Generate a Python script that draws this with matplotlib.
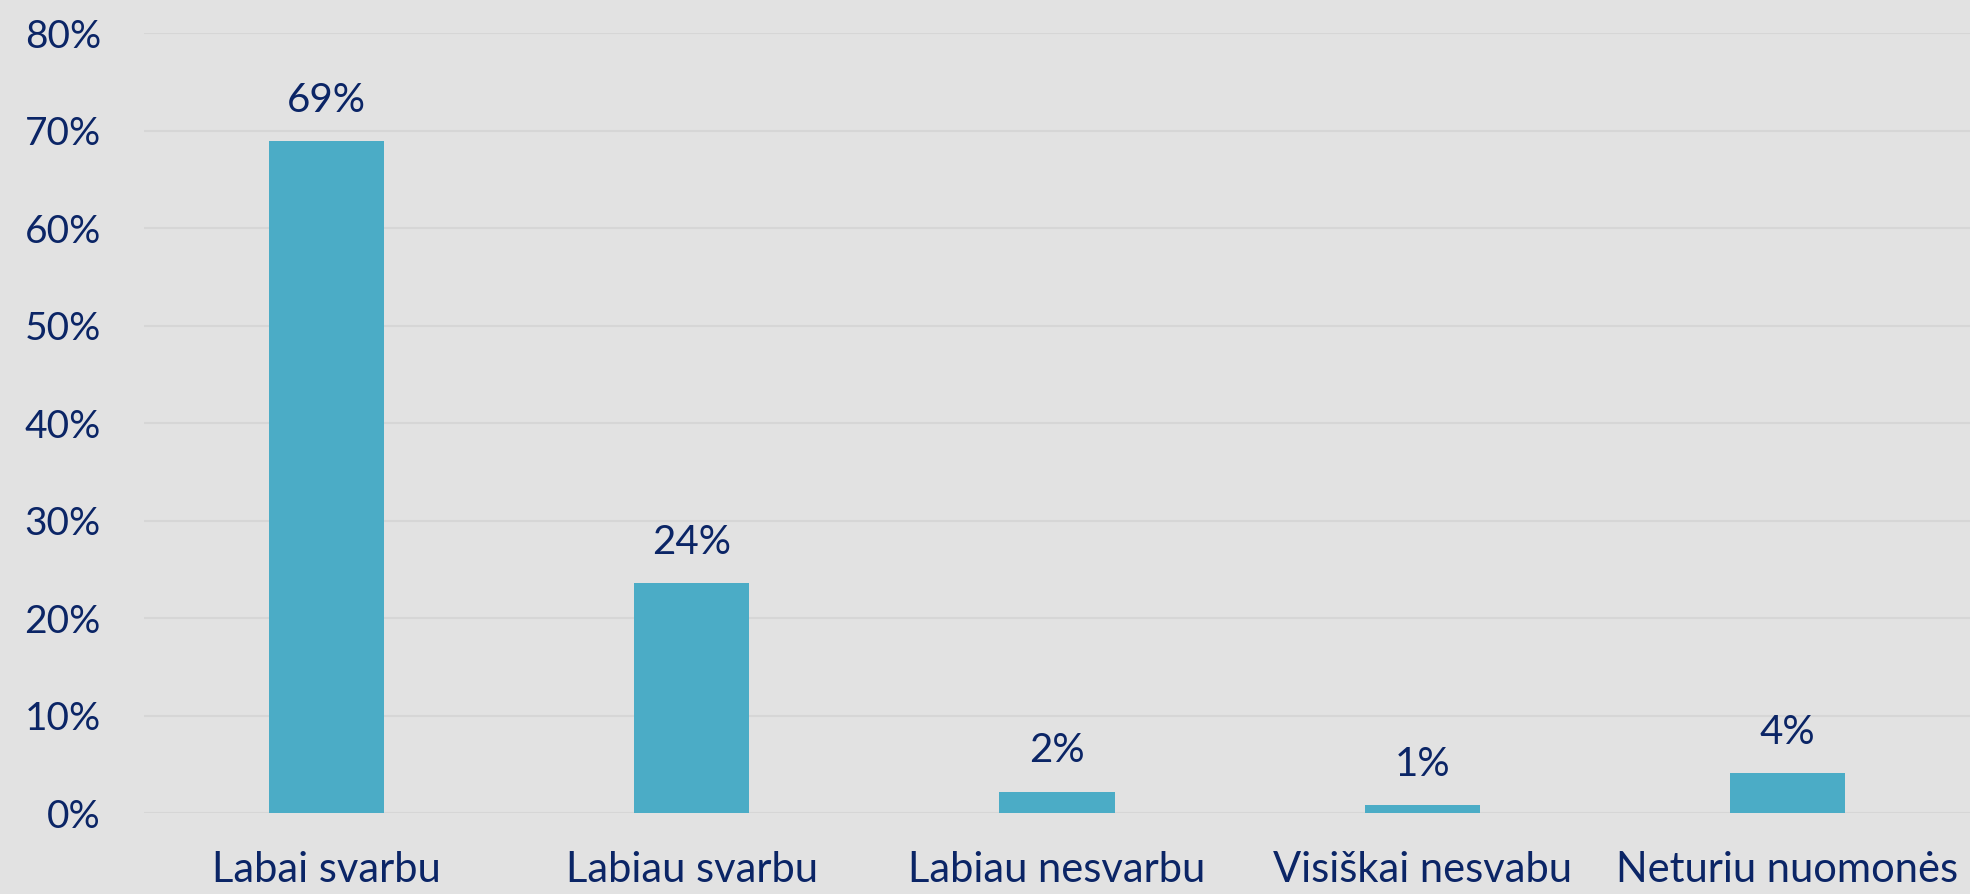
import matplotlib.pyplot as plt
from matplotlib.ticker import PercentFormatter

categories = ['Labai svarbu', 'Labiau svarbu', 'Labiau nesvarbu', 'Visiškai nesvabu', 'Neturiu nuomonės']
values = [68.9, 23.6, 2.2, 0.8, 4.1]
labels = ['69%', '24%', '2%', '1%', '4%']
yticks = [0, 10, 20, 30, 40, 50, 60, 70, 80]

bg = '#E2E2E2'
navy = '#0B2566'
bar_col = '#4BACC6'

plt.rcParams['font.family'] = ['Lato', 'DejaVu Sans']

fig = plt.figure(figsize=(19.7, 8.94), dpi=100, facecolor=bg)
ax = fig.add_axes([0.0731, 0.0906, 0.9269, 0.8724], facecolor=bg)

x = range(len(categories))
bars = ax.bar(x, values, width=0.315, color=bar_col, zorder=3)

for b, lab in zip(bars, labels):
    ax.annotate(lab, (b.get_x() + b.get_width() / 2, b.get_height()),
                xytext=(0, 16), textcoords='offset points',
                ha='center', va='bottom', fontsize=29, color=navy)

ax.set_xlim(-0.5, len(categories) - 0.5)
ax.set_ylim(0, 80)
ax.set_yticks(yticks)
ax.yaxis.set_major_formatter(PercentFormatter(decimals=0))
ax.set_xticks(list(x))
ax.set_xticklabels(categories)
ax.tick_params(axis='both', length=0, labelcolor=navy)
ax.tick_params(axis='y', labelsize=28, pad=31)
ax.tick_params(axis='x', labelsize=30, pad=27)
ax.grid(axis='y', color='#D6D6D6', linewidth=1.5, zorder=0)
for s in ax.spines.values():
    s.set_visible(False)

fig.savefig('out.png', dpi=100, facecolor=bg)
